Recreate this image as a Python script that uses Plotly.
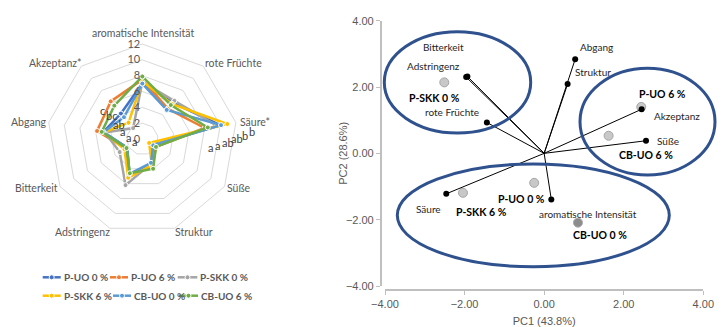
import plotly.graph_objects as go

W, H = 727, 327

# ---------------- Radar data ----------------
categories = ["aromatische Intensität", "rote Früchte", "Säure*", "Süße", "Struktur",
              "Adstringenz", "Bitterkeit", "Abgang", "Akzeptanz*"]
series_names = ["P-UO 0 %", "P-UO 6 %", "P-SKK 0 %", "P-SKK 6 %", "CB-UO 0 %", "CB-UO 6 %"]
p_uo_0 = [7.0, 6.0, 10.0, 1.5, 3.5, 4.8, 2.2, 5.0, 4.2]
p_uo_6 = [7.5, 5.0, 8.0, 2.0, 3.7, 4.9, 2.4, 5.8, 6.2]
p_skk_0 = [7.2, 6.3, 9.6, 1.5, 3.3, 6.2, 3.3, 4.8, 1.8]
p_skk_6 = [7.3, 5.8, 10.9, 1.0, 3.5, 5.2, 2.6, 4.9, 2.7]
cb_uo_0 = [7.0, 4.8, 10.1, 1.6, 3.2, 4.7, 2.2, 5.0, 3.6]
cb_uo_6 = [7.9, 5.6, 8.4, 2.0, 4.0, 4.6, 2.3, 5.2, 5.5]
radial_ticks = [0, 2, 4, 6, 8, 10, 12]
letters_saeure = ["a", "a", "ab", "ab", "b", "b"]
letters_akzeptanz = ["c", "bc", "ab", "a", "a", "a"]

# ---------------- PCA data ----------------
loading_names = ["Bitterkeit", "Adstringenz", "rote Früchte", "Abgang", "Struktur",
                 "Akzeptanz", "Süße", "Säure", "aromatische Intensität"]
loading_x = [-1.93, -1.96, -1.44, 0.78, 0.59, 2.45, 2.56, -2.46, 0.18]
loading_y = [2.32, 2.30, 0.93, 2.84, 2.09, 1.33, 0.38, -1.22, -1.39]
sample_names = ["P-SKK 0 %", "P-UO 6 %", "CB-UO 6 %", "P-SKK 6 %", "P-UO 0 %", "CB-UO 0 %"]
score_x = [-2.51, 2.44, 1.62, -2.04, -0.25, 0.85]
score_y = [2.14, 1.40, 0.53, -1.19, -0.89, -2.09]
pca_ticks = [-4, -2, 0, 2, 4]

# ---------------- styling ----------------
colors = ["#4472C4", "#ED7D31", "#A5A5A5", "#FFC000", "#5B9BD5", "#70AD47"]
CAL = "Liberation Sans Narrow, Lato"
LATO = "Lato"
ARI = "Liberation Sans"
TXT = "#595959"

def px(x):
    return x / W

def py(y):
    return 1 - y / H

fig = go.Figure()

all_series = [p_uo_0, p_uo_6, p_skk_0, p_skk_6, cb_uo_0, cb_uo_6]
for name, vals, col in zip(series_names, all_series, colors):
    fig.add_trace(go.Scatterpolar(
        r=vals + vals[:1], theta=categories + categories[:1], mode="lines+markers",
        name=name, line=dict(color=col, width=2.5),
        marker=dict(size=5, color=col, line=dict(color="white", width=1)),
        showlegend=False, subplot="polar"))

# PCA: samples
fig.add_trace(go.Scatter(
    x=score_x, y=score_y, mode="markers", showlegend=False,
    marker=dict(size=9, color=["#C8C8C8"] * 5 + ["#8C8C8C"],
                line=dict(color="#A6A6A6", width=1)),
    xaxis="x", yaxis="y"))
# PCA: loading vectors
for lx, ly in zip(loading_x, loading_y):
    fig.add_trace(go.Scatter(x=[0, lx], y=[0, ly], mode="lines", showlegend=False,
                             line=dict(color="black", width=1), xaxis="x", yaxis="y"))
fig.add_trace(go.Scatter(x=loading_x, y=loading_y, mode="markers", showlegend=False,
                         marker=dict(size=6, color="black"), xaxis="x", yaxis="y"))

annotations = []
load_off = [(-24, 29), (-33, 11), (-35, 11), (21, 12), (25, 12), (35, -7), (22, 0), (-18, -15), (37, -15)]
for n, lx, ly, (dx, dy) in zip(loading_names, loading_x, loading_y, load_off):
    annotations.append(dict(x=lx, y=ly, xref="x", yref="y", text=n, showarrow=False,
                            xanchor="center", yanchor="middle",
                            xshift=dx, yshift=dy, font=dict(family=CAL, size=10, color="#262626")))
samp_off = [(-10, -16), (21, 13), (37, -19), (19, -19), (-13, -16), (22, -12)]
for n, sx, sy, (dx, dy) in zip(sample_names, score_x, score_y, samp_off):
    annotations.append(dict(x=sx, y=sy, xref="x", yref="y", text="<b>" + n + "</b>", showarrow=False,
                            xanchor="center", yanchor="middle",
                            xshift=dx, yshift=dy, font=dict(family=CAL, size=10.5, color="black")))

# PCA y-axis title
annotations.append(dict(x=px(343.5), y=py(153.3), xref="paper", yref="paper", text="PC2 (28.6%)",
                        textangle=-90, showarrow=False, xanchor="center", yanchor="middle",
                        font=dict(family=ARI, size=11, color=TXT)))

# radar category labels (placed like the reference)
cat_pos = [(142.5, 33.3), (233, 63.3), (255, 122.3), (238.7, 188.3), (194, 232.3),
           (82.8, 232.3), (36.3, 188.3), (28.8, 122.3), (55.3, 63.3)]
for t, (x, y) in zip(categories, cat_pos):
    annotations.append(dict(x=px(x), y=py(y), xref="paper", yref="paper", text=t, showarrow=False,
                            xanchor="center", yanchor="middle",
                            font=dict(family=CAL, size=10.5, color=TXT)))

# significance letters on radar
saeure_pos = [(210, 147), (217, 145.5), (228, 142), (237, 138.5), (245, 135), (251.5, 131.5)]
for t, (x, y) in zip(letters_saeure, saeure_pos):
    annotations.append(dict(x=px(x), y=py(y), xref="paper", yref="paper", text=t, showarrow=False,
                            xanchor="center", yanchor="middle",
                            font=dict(family=LATO, size=11, color="#404040")))
akz_pos = [(102, 110.5), (111, 116), (118.5, 124), (122.5, 131), (128, 137.5), (134, 141)]
for t, (x, y) in zip(letters_akzeptanz, akz_pos):
    annotations.append(dict(x=px(x), y=py(y), xref="paper", yref="paper", text=t, showarrow=False,
                            xanchor="center", yanchor="middle",
                            font=dict(family=LATO, size=11, color="#404040")))

shapes = []
for (x0, x1, y0, y1) in [(384.3, 530.7, 31.7, 133), (580, 715, 68.3, 175), (397.3, 669.3, 164, 266.7)]:
    shapes.append(dict(type="circle", xref="paper", yref="paper", x0=px(x0), x1=px(x1),
                       y0=py(y1), y1=py(y0), line=dict(color="#2F528F", width=3)))

# manual legend
leg = [(42.7, 60.7, 277.3), (110, 128, 277.3), (177.7, 197.3, 277.3),
       (42.7, 60.7, 295.7), (113, 131, 295.7), (179, 198, 295.7)]
for name, col, (lx0, lx1, ly) in zip(series_names, colors, leg):
    shapes.append(dict(type="line", xref="paper", yref="paper", x0=px(lx0), x1=px(lx1),
                       y0=py(ly), y1=py(ly), line=dict(color=col, width=2.5)))
    cx = (lx0 + lx1) / 2
    shapes.append(dict(type="circle", xref="paper", yref="paper", x0=px(cx - 2.5), x1=px(cx + 2.5),
                       y0=py(ly + 2.5), y1=py(ly - 2.5), fillcolor=col, line=dict(color="white", width=1)))
    annotations.append(dict(x=px(lx1 + 1), y=py(ly), xref="paper", yref="paper",
                            xanchor="left", yanchor="middle",
                            text="<b>" + name + "</b>", showarrow=False,
                            font=dict(family=LATO, size=10, color=TXT)))

fig.update_layout(
    width=W, height=H, margin=dict(l=0, r=0, t=0, b=0, autoexpand=False),
    paper_bgcolor="white", plot_bgcolor="white",
    polar=dict(
        domain=dict(x=[px(47.3), px(237.3)], y=[py(234), py(44)]),
        bgcolor="white", gridshape="linear",
        radialaxis=dict(range=[0, 12], tickvals=radial_ticks, angle=90, tickangle=90,
                        showline=False, ticks="", gridcolor="#D9D9D9", side="counterclockwise",
                        tickfont=dict(family=LATO, size=11, color=TXT)),
        angularaxis=dict(rotation=90, direction="clockwise", showgrid=False, showline=True,
                         linecolor="#D9D9D9", ticks="", showticklabels=False),
    ),
    xaxis=dict(domain=[px(385), px(703.3)], range=[-4, 4], tickvals=pca_ticks, tickformat=".2f",
               anchor="free", position=py(290), showline=True, linecolor="#BFBFBF", linewidth=1.5,
               ticks="outside", ticklen=4, tickcolor="#BFBFBF", showgrid=False, zeroline=False,
               automargin=False,
               tickfont=dict(family=ARI, size=11, color=TXT),
               title=dict(text="PC1 (43.8%)", font=dict(family=ARI, size=11, color=TXT), standoff=8)),
    yaxis=dict(domain=[py(286), py(20.7)], range=[-4, 4], tickvals=pca_ticks, tickformat=".2f",
               anchor="free", position=px(380.7), showline=True, linecolor="#BFBFBF", linewidth=1.5,
               ticks="outside", ticklen=4, tickcolor="#BFBFBF", showgrid=False, zeroline=False,
               automargin=False,
               tickfont=dict(family=ARI, size=11, color=TXT)),
    annotations=annotations, shapes=shapes, showlegend=False,
)

fig.write_html("out.html", config={"displayModeBar": False},
               post_script="document.body.style.margin='0px';")
